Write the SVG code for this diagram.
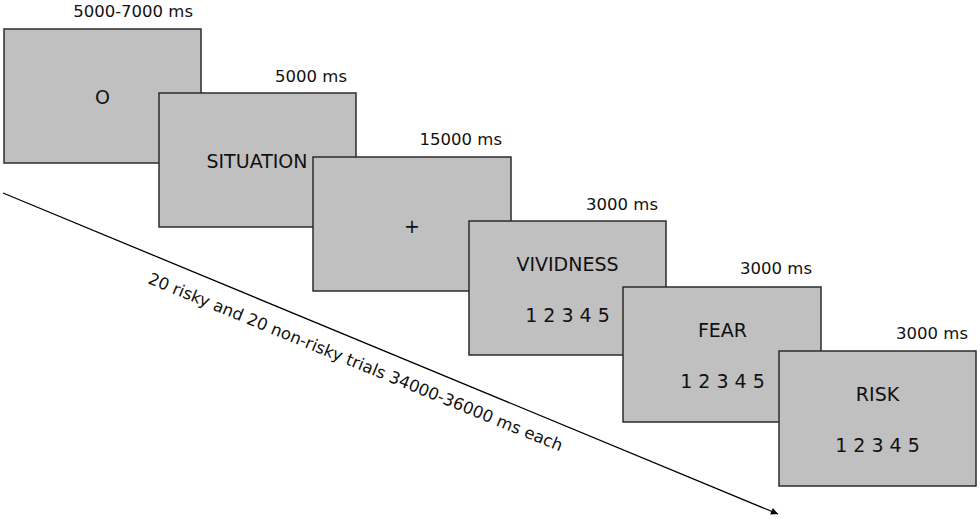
<svg xmlns="http://www.w3.org/2000/svg" width="980" height="519" viewBox="0 0 980 519">
<defs>
<style>
.box{fill:#c0c0c0;stroke:#2b2b2b;stroke-width:1.5}
.lbl{font-family:"DejaVu Sans",Verdana,sans-serif;font-size:16.5px;fill:#111;text-anchor:end}
.ctr{font-family:"DejaVu Sans",Verdana,sans-serif;font-size:19px;fill:#111;text-anchor:middle}
.rot{font-family:"DejaVu Sans",Verdana,sans-serif;font-size:16.5px;fill:#111}
</style>
<marker id="ah" viewBox="0 0 10 10" refX="10" refY="5" markerWidth="9" markerHeight="7" markerUnits="userSpaceOnUse" orient="auto">
<path d="M0,0 L10,5 L0,10 z" fill="#000"/>
</marker>
</defs>
<rect width="980" height="519" fill="#fff"/>
<g id="connectors">
<line x1="3" y1="193" x2="778" y2="514" stroke="#000" stroke-width="1.3" marker-end="url(#ah)"/>
<text class="rot" transform="translate(147,283) rotate(22.2)">20 risky and 20 non-risky trials 34000-36000 ms each</text>
</g>
<g id="node-fixation-o">
<text class="lbl" x="193" y="17">5000-7000 ms</text>
<rect class="box" x="4" y="29" width="197" height="134"/>
<text class="ctr" x="102.5" y="104">O</text>
</g>
<g id="node-situation">
<text class="lbl" x="347" y="82">5000 ms</text>
<rect class="box" x="159" y="93" width="197" height="134"/>
<text class="ctr" x="257" y="168">SITUATION</text>
</g>
<g id="node-cross">
<text class="lbl" x="502" y="145">15000 ms</text>
<rect class="box" x="313" y="157" width="198" height="134"/>
<text class="ctr" x="412" y="233">+</text>
</g>
<g id="node-vividness">
<text class="lbl" x="658" y="210">3000 ms</text>
<rect class="box" x="469" y="221" width="197" height="134"/>
<text class="ctr" x="567.5" y="271">VIVIDNESS</text>
<text class="ctr" x="567.5" y="322">1 2 3 4 5</text>
</g>
<g id="node-fear">
<text class="lbl" x="812" y="274">3000 ms</text>
<rect class="box" x="623" y="287" width="198" height="135"/>
<text class="ctr" x="722.5" y="337">FEAR</text>
<text class="ctr" x="722.5" y="388">1 2 3 4 5</text>
</g>
<g id="node-risk">
<text class="lbl" x="968" y="339">3000 ms</text>
<rect class="box" x="779" y="351" width="197" height="135"/>
<text class="ctr" x="877.5" y="401">RISK</text>
<text class="ctr" x="877.5" y="452">1 2 3 4 5</text>
</g>
</svg>
